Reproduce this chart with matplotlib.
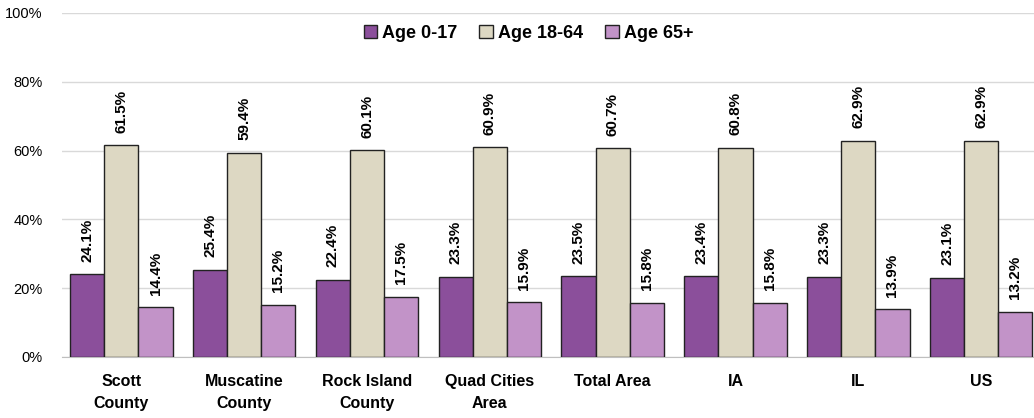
import numpy as np
import matplotlib.pyplot as plt
from matplotlib.ticker import FuncFormatter

plt.rcParams['font.family'] = ['Liberation Sans', 'DejaVu Sans']

regions = ["Scott\nCounty", "Muscatine\nCounty", "Rock Island\nCounty", "Quad Cities\nArea",
           "Total Area", "IA", "IL", "US"]
age_0_17 = [24.1, 25.4, 22.4, 23.3, 23.5, 23.4, 23.3, 23.1]
age_18_64 = [61.5, 59.4, 60.1, 60.9, 60.7, 60.8, 62.9, 62.9]
age_65 = [14.4, 15.2, 17.5, 15.9, 15.8, 15.8, 13.9, 13.2]

series = [("Age 0-17", age_0_17, "#8b4f9b"),
          ("Age 18-64", age_18_64, "#ddd8c3"),
          ("Age 65+", age_65, "#c293c8")]

fig = plt.figure(figsize=(10.34, 4.18), dpi=100)
ax = fig.add_axes([0.06, 0.146, 0.94, 0.823])

x = np.arange(len(regions))
w = 0.278
for i, (name, vals, col) in enumerate(series):
    pos = x + (i - 1) * w
    ax.bar(pos, vals, w, color=col, edgecolor="#222222", linewidth=1.0, label=name, zorder=3)
    for p, v in zip(pos, vals):
        ax.annotate(f"{v:.1f}%", (p, v), xytext=(0, 9), textcoords="offset points",
                    rotation=90, ha="center", va="bottom", fontsize=11, fontweight="bold")

ax.set_ylim(0, 100)
ax.set_xlim(-0.483, 7.43)
ax.set_yticks(np.arange(0, 101, 20))
ax.yaxis.set_major_formatter(FuncFormatter(lambda v, _: f"{v:.0f}%"))
ax.grid(axis="y", color="#d9d9d9", linewidth=1, zorder=0)
for s in ["top", "right", "left"]:
    ax.spines[s].set_visible(False)
ax.spines["bottom"].set_color("#bfbfbf")
ax.tick_params(axis="y", length=0, labelsize=10.5, pad=14)
ax.tick_params(axis="x", length=0, pad=12)
ax.set_xticks(x)
ax.set_xticklabels(regions, fontsize=11.5, fontweight="bold", linespacing=1.6)

ax.legend(loc="upper center", bbox_to_anchor=(0.48, 1.012), ncol=3, frameon=False,
          prop={"weight": "bold", "size": 13}, handlelength=0.75, handleheight=0.75,
          handletextpad=0.3, columnspacing=1.2)

plt.savefig("out.png", dpi=100)
